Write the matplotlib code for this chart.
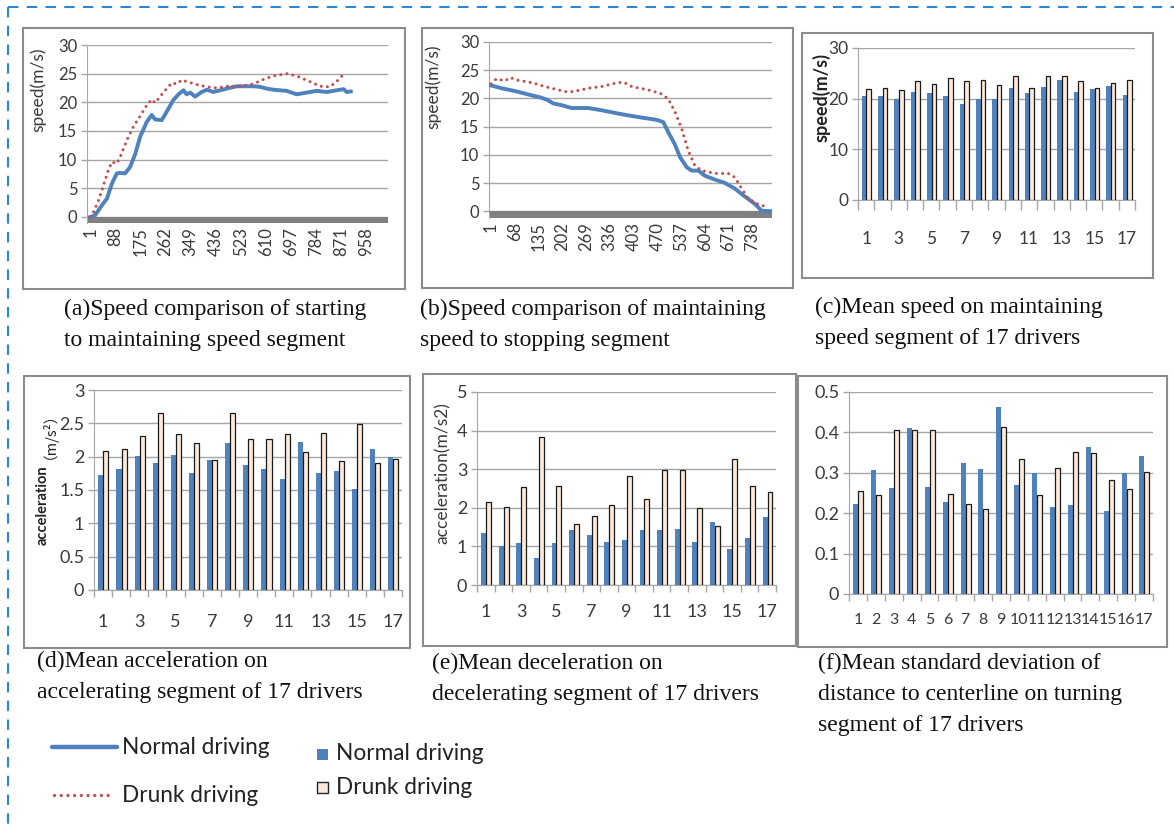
import numpy as np
import matplotlib
matplotlib.use("Agg")
import matplotlib.pyplot as plt
from matplotlib.patches import Rectangle
from matplotlib.lines import Line2D

# ---------------- data ----------------
# (a) starting -> maintaining speed segment
a_norm_idx = [1, 18, 41, 59, 76, 93, 105, 122, 139, 157, 174, 197, 214, 226, 249, 272, 289, 307,
              324, 335, 347, 364, 387, 405, 428, 451, 474, 508, 566, 589, 612, 635, 681, 716,
              751, 785, 820, 854, 878, 889, 903]
a_norm_speed = [0.0, 0.3, 2.0, 3.2, 5.8, 7.6, 7.7, 7.6, 8.7, 11.0, 14.0, 16.6, 17.8, 17.0, 16.9,
                18.9, 20.4, 21.4, 22.1, 21.4, 21.7, 21.0, 21.8, 22.2, 21.8, 22.1, 22.4, 22.8,
                22.8, 22.7, 22.4, 22.2, 22.0, 21.4, 21.7, 22.0, 21.8, 22.1, 22.3, 21.8, 21.9]
a_drunk_idx = [1, 13, 30, 47, 64, 76, 93, 105, 128, 151, 174, 197, 214, 226, 243, 266, 284, 301,
               318, 336, 370, 405, 439, 474, 520, 566, 601, 635, 681, 716, 762, 797, 831, 860, 883]
a_drunk_speed = [0.0, 0.9, 2.9, 5.5, 8.2, 9.6, 9.3, 10.5, 13.4, 15.8, 17.6, 19.5, 20.5, 19.9, 21.0,
                 22.4, 23.4, 23.2, 23.9, 23.6, 23.1, 22.7, 22.5, 22.8, 22.8, 23.2, 24.0, 24.6,
                 25.0, 24.6, 23.6, 22.8, 22.7, 23.9, 25.2]
a_ticks = [1, 88, 175, 262, 349, 436, 523, 610, 697, 784, 871, 958]

# (b) maintaining speed -> stopping segment
b_norm_idx = [1, 31, 69, 106, 139, 158, 177, 200, 228, 275, 313, 369, 426, 468, 487, 501, 520,
              534, 553, 567, 586, 604, 633, 661, 689, 717, 745, 764, 792]
b_norm_speed = [22.3, 21.8, 21.3, 20.7, 20.2, 19.8, 19.1, 18.8, 18.3, 18.3, 17.9, 17.2, 16.6,
                16.2, 15.8, 14.0, 11.8, 9.6, 7.8, 7.2, 7.2, 6.3, 5.6, 5.0, 4.0, 2.6, 1.3, 0.1, 0.0]
b_drunk_idx = [1, 17, 40, 55, 78, 116, 153, 191, 219, 247, 275, 313, 351, 374, 398, 445, 482,
               501, 520, 539, 557, 576, 595, 633, 670, 689, 708, 727, 755, 783]
b_drunk_speed = [22.6, 23.5, 23.1, 23.7, 23.2, 22.8, 22.1, 21.5, 21.1, 21.4, 21.8, 22.1, 22.7,
                 22.9, 22.1, 21.5, 20.8, 19.9, 17.6, 14.6, 10.8, 8.1, 7.2, 6.7, 6.7, 6.0, 4.0,
                 2.2, 1.2, 0.7]
b_ticks = [1, 68, 135, 202, 269, 336, 403, 470, 537, 604, 671, 738]

drivers = list(range(1, 18))
# (c) mean speed, maintaining speed segment
c_normal = [20.6, 20.6, 19.9, 21.4, 21.1, 20.6, 19.0, 20.0, 20.0, 22.1, 21.1, 22.3, 23.6, 21.4,
            21.9, 22.5, 20.8]
c_drunk = [22.0, 22.2, 21.8, 23.5, 22.9, 24.1, 23.5, 23.7, 22.7, 24.5, 22.2, 24.5, 24.5, 23.5,
           22.2, 23.1, 23.7]
# (d) mean acceleration, accelerating segment
d_normal = [1.72, 1.82, 2.01, 1.91, 2.02, 1.76, 1.95, 2.20, 1.87, 1.81, 1.66, 2.22, 1.76, 1.78,
            1.52, 2.11, 1.99]
d_drunk = [2.08, 2.11, 2.31, 2.65, 2.34, 2.21, 1.95, 2.66, 2.26, 2.27, 2.34, 2.07, 2.36, 1.93,
           2.49, 1.90, 1.96]
# (e) mean deceleration, decelerating segment
e_normal = [1.34, 1.02, 1.10, 0.69, 1.10, 1.42, 1.30, 1.12, 1.17, 1.42, 1.42, 1.44, 1.12, 1.64,
            0.93, 1.22, 1.77]
e_drunk = [2.14, 2.02, 2.53, 3.83, 2.57, 1.58, 1.79, 2.07, 2.83, 2.24, 2.98, 2.98, 1.99, 1.54,
           3.26, 2.57, 2.40]
# (f) std of distance to centerline, turning segment
f_normal = [0.224, 0.307, 0.262, 0.412, 0.265, 0.227, 0.325, 0.310, 0.462, 0.270, 0.300, 0.215,
            0.220, 0.363, 0.206, 0.300, 0.341]
f_drunk = [0.255, 0.245, 0.407, 0.405, 0.405, 0.248, 0.224, 0.210, 0.414, 0.333, 0.245, 0.312,
           0.352, 0.350, 0.281, 0.260, 0.302]

captions = {
    "a": ["(a)Speed comparison of starting", "to maintaining speed segment"],
    "b": ["(b)Speed comparison of maintaining", "speed to stopping segment"],
    "c": ["(c)Mean speed on maintaining", "speed segment of 17 drivers"],
    "d": ["(d)Mean acceleration on", "accelerating segment of 17 drivers"],
    "e": ["(e)Mean deceleration on", "decelerating segment of 17 drivers"],
    "f": ["(f)Mean standard deviation of", "distance to centerline on turning",
          "segment of 17 drivers"],
}

# ---------------- style ----------------
BLUE = "#4F81BD"
RED = "#C0504D"
CREAM = "#FDE9D9"
GRID = "#A6A6A6"
TXT = "#3A3A3A"
SANS = "Lato"
SERIF = "Liberation Serif"

W, H = 1174, 826
fig = plt.figure(figsize=(W / 100, H / 100), dpi=100)
fig.patch.set_facecolor("white")


def fbox(x0, y0, x1, y1):
    return [x0 / W, 1 - y1 / H, (x1 - x0) / W, (y1 - y0) / H]


def ftext(x, y, s, **kw):
    return fig.text(x / W, 1 - y / H, s, **kw)


def frame(x0, y0, x1, y1):
    fig.patches.append(Rectangle((x0 / W, 1 - y1 / H), (x1 - x0) / W, (y1 - y0) / H,
                                 transform=fig.transFigure, fill=False,
                                 edgecolor="#8C8C8C", linewidth=1.5))


def style_common(ax, tsize):
    for s in ("top", "right"):
        ax.spines[s].set_visible(False)
    ax.spines["left"].set_color(GRID)
    ax.spines["bottom"].set_color(GRID)
    ax.yaxis.grid(True, color=GRID, linewidth=1.0)
    ax.set_axisbelow(True)
    ax.tick_params(axis="y", colors=GRID, labelcolor=TXT, labelsize=tsize, length=4,
                   width=1.0, pad=3)
    for lab in ax.get_yticklabels():
        lab.set_fontfamily(SANS)


# dashed outer border (top and left)
fig.lines.append(Line2D([8 / W, 1.0], [1 - 7 / H, 1 - 7 / H], transform=fig.transFigure,
                        color="#2E86D1", linewidth=1.5, linestyle=(0, (5, 4))))
fig.lines.append(Line2D([8 / W, 8 / W], [1 - 7 / H, 0.0], transform=fig.transFigure,
                        color="#2E86D1", linewidth=1.5, linestyle=(0, (5, 4))))

# panel frames
frame(23, 28, 405, 289)
frame(422, 28, 793, 288)
frame(802, 33, 1153, 278)
frame(24, 376, 410, 648)
frame(423, 374, 796, 646)
frame(798, 376, 1167, 647)


def line_panel(box, xlim, band, norm_x, norm_y, dr_x, dr_y, ticks, ylab_pos):
    ax = fig.add_axes(fbox(*box))
    ax.plot(norm_x, norm_y, color=BLUE, linewidth=2.8, solid_joinstyle="round", zorder=3)
    ax.plot(dr_x, dr_y, color=RED, linewidth=2.2, linestyle=(0, (0.01, 2.0)),
            dash_capstyle="round", zorder=4)
    ax.axhspan(band, 0, color="#808080", linewidth=0, zorder=2)
    ax.set_xlim(*xlim)
    ax.set_ylim(band, 30)
    ax.set_yticks([0, 5, 10, 15, 20, 25, 30])
    style_common(ax, 12)
    ax.spines["bottom"].set_visible(False)
    ax.set_xticks(ticks)
    ax.set_xticklabels([str(t) for t in ticks], rotation=90, fontfamily=SANS, fontsize=12,
                       color=TXT)
    ax.tick_params(axis="x", length=0, pad=3)
    ftext(ylab_pos[0], ylab_pos[1], "speed(m/s)", rotation=90, ha="center", va="center",
          fontsize=12.5, color=TXT, fontfamily=SANS)
    return ax


line_panel((87, 45, 388, 223), (-10, 1032), -1.05, a_norm_idx, a_norm_speed,
           a_drunk_idx, a_drunk_speed, a_ticks, (38, 90))
line_panel((489, 42, 772, 218), (-4.6, 793.5), -1.2, b_norm_idx, b_norm_speed,
           b_drunk_idx, b_drunk_speed, b_ticks, (433, 87))


def bar_panel(box, normal, drunk, ylim, yticks, tsize, xlabels, xsize, label_pad, tick_len):
    ax = fig.add_axes(fbox(*box))
    x = np.array(drivers)
    ax.bar(x - 0.12, normal, width=0.28, color=BLUE, linewidth=0, zorder=3)
    ax.bar(x + 0.16, drunk, width=0.28, color=CREAM, edgecolor="#1A1A1A", linewidth=0.9,
           zorder=3)
    ax.set_xlim(0.5, 17.5)
    ax.set_ylim(*ylim)
    ax.set_yticks(yticks)
    ax.set_yticklabels(["%g" % v for v in yticks])
    style_common(ax, tsize)
    ax.set_xticks(xlabels)
    ax.set_xticklabels([str(v) for v in xlabels], fontfamily=SANS, fontsize=xsize, color=TXT)
    ax.set_xticks(np.arange(0.5, 18.0, 1.0), minor=True)
    ax.tick_params(axis="x", which="major", length=0, pad=label_pad)
    ax.tick_params(axis="x", which="minor", length=tick_len, color=GRID, width=1.0)
    return ax


odd = list(range(1, 18, 2))

bar_panel((858, 48, 1135, 200), c_normal, c_drunk, (0, 30), [0, 10, 20, 30], 12.5,
          odd, 12.5, 22, 7)
ftext(821, 97, "speed(m/s)", rotation=90, ha="center", va="center", fontsize=13,
      fontweight="bold", color="#222222", fontfamily=SANS)

bar_panel((94, 390, 402, 590), d_normal, d_drunk, (0, 3), [0, 0.5, 1, 1.5, 2, 2.5, 3],
          13, odd, 13, 17, 5)
ftext(43, 505, "acceleration", rotation=90, ha="center", va="center", fontsize=10.5,
      fontweight="bold", color="#222222", fontfamily=SANS)
ftext(42, 428, "（m/s²）", rotation=90, ha="center", va="center", fontsize=10.5,
      color="#222222", fontfamily=["Noto Sans CJK SC", "DejaVu Sans"])

bar_panel((477, 392, 776, 585), e_normal, e_drunk, (0, 5), [0, 1, 2, 3, 4, 5], 13,
          odd, 13, 14, 5)
ftext(443, 473, "acceleration(m/s2)", rotation=90, ha="center", va="center", fontsize=12.5,
      color=TXT, fontfamily=SANS)

bar_panel((849, 392, 1153, 594), f_normal, f_drunk, (0, 0.5), [0, 0.1, 0.2, 0.3, 0.4, 0.5],
          13, drivers, 11.5, 14, 5)

# captions
cap_pos = {"a": (64, 309), "b": (420, 309), "c": (815, 307), "d": (37, 661),
           "e": (432, 663), "f": (818, 663)}
for key, lines in captions.items():
    x0, y0 = cap_pos[key]
    for i, line in enumerate(lines):
        ftext(x0, y0 + 31.5 * i, line, ha="left", va="center", fontsize=17,
              fontfamily=SERIF, color="#111111")

# legends
fig.lines.append(Line2D([52 / W, 117 / W], [1 - 747 / H] * 2, transform=fig.transFigure,
                        color=BLUE, linewidth=3.2, solid_capstyle="round"))
ftext(122, 747, "Normal driving", ha="left", va="center", fontsize=16.3, fontfamily=SANS,
      color="#222222")
fig.lines.append(Line2D([54 / W, 110 / W], [1 - 795 / H] * 2, transform=fig.transFigure,
                        color=RED, linewidth=2.4, linestyle=(0, (0.01, 2.0)),
                        dash_capstyle="round"))
ftext(122, 795, "Drunk driving", ha="left", va="center", fontsize=16.3, fontfamily=SANS,
      color="#222222")

fig.patches.append(Rectangle((317 / W, 1 - 760 / H), 11 / W, 11 / H, transform=fig.transFigure,
                             facecolor=BLUE, edgecolor="none"))
ftext(336, 754, "Normal driving", ha="left", va="center", fontsize=16.3, fontfamily=SANS,
      color="#222222")
fig.patches.append(Rectangle((317 / W, 1 - 793 / H), 11 / W, 11 / H, transform=fig.transFigure,
                             facecolor=CREAM, edgecolor="#222222", linewidth=1.0))
ftext(336, 787, "Drunk driving", ha="left", va="center", fontsize=16.3, fontfamily=SANS,
      color="#222222")

fig.savefig("out.png", dpi=100)
